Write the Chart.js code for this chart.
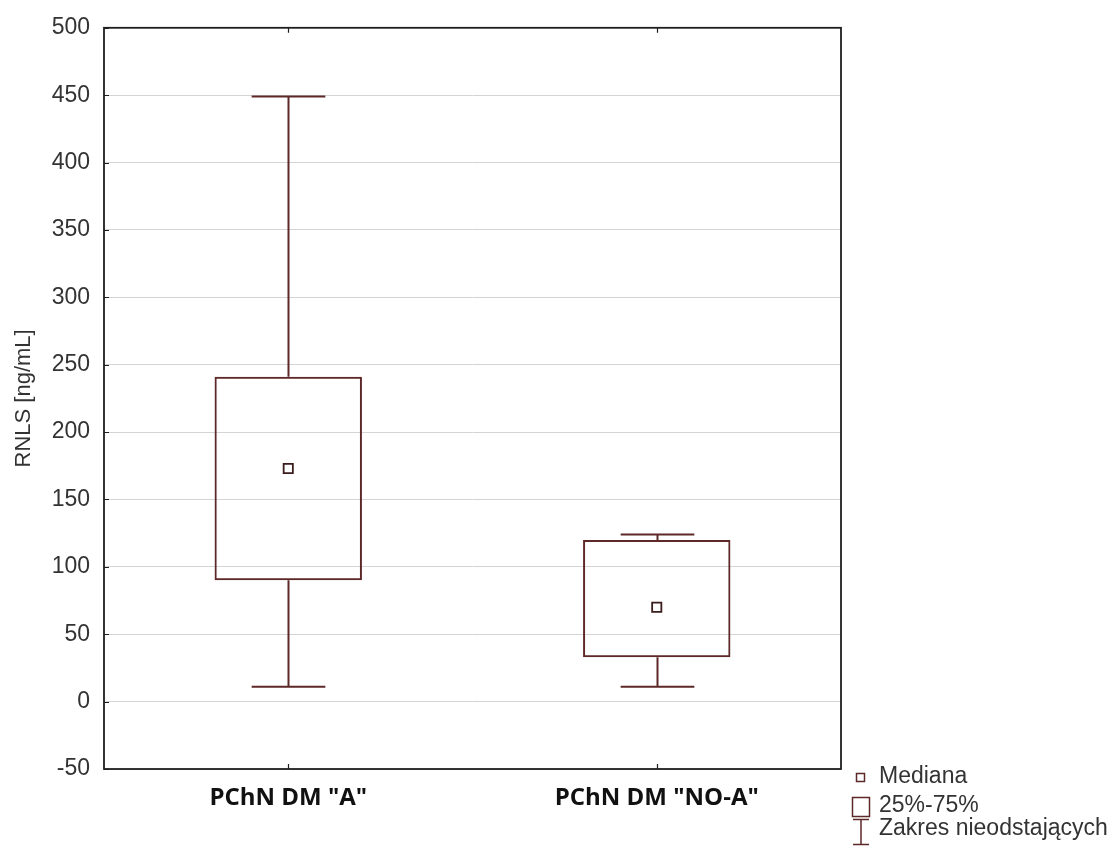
<!DOCTYPE html>
<html>
<head>
<meta charset="utf-8">
<script src="https://cdn.jsdelivr.net/npm/chart.js@4.4.1/dist/chart.umd.min.js"></script>
<style>
  html, body { margin: 0; padding: 0; background: #ffffff; }
  #wrap { width: 1119px; height: 848px; }
</style>
</head>
<body>
<div id="wrap"><canvas id="c" width="1119" height="848"></canvas></div>
<script>
const categories = ['PChN DM "A"', 'PChN DM "NO-A"'];
const whiskerLow = [11, 11];
const q1 = [90, 33];
const median = [173, 70];
const q3 = [241, 120];
const whiskerHigh = [449, 124];
const yTicks = [-50, 0, 50, 100, 150, 200, 250, 300, 350, 400, 450, 500];
const legendLabels = ['Mediana', '25%-75%', 'Zakres nieodstających'];
const yTitle = 'RNLS [ng/mL]';

const BOX = '#5e2828';
const TEXT = '#333333';
const TICKFONT = { family: '"Liberation Sans", Arial, sans-serif', size: 23 };

const boxPlugin = {
  id: 'boxExtras',
  beforeDatasetsDraw(chart) {
    const { ctx, scales: { x, y } } = chart;
    ctx.save();
    ctx.strokeStyle = BOX;
    ctx.lineWidth = 2;
    const catW = x.getPixelForValue(1) - x.getPixelForValue(0);
    const capHalf = catW * 0.1;
    categories.forEach((c, i) => {
      const cx = Math.round(x.getPixelForValue(i)) + 0.5;
      const yl = y.getPixelForValue(whiskerLow[i]);
      const y1 = y.getPixelForValue(q1[i]);
      const y3 = y.getPixelForValue(q3[i]);
      const yh = y.getPixelForValue(whiskerHigh[i]);
      ctx.beginPath();
      ctx.moveTo(cx, y1); ctx.lineTo(cx, yl);
      ctx.moveTo(cx, y3); ctx.lineTo(cx, yh);
      ctx.moveTo(cx - capHalf, yl); ctx.lineTo(cx + capHalf, yl);
      ctx.moveTo(cx - capHalf, yh); ctx.lineTo(cx + capHalf, yh);
      ctx.stroke();
    });
    ctx.restore();
  },
  afterDraw(chart) {
    const { ctx, chartArea: a, scales: { x, y } } = chart;
    ctx.save();
    // frame
    ctx.strokeStyle = '#1e1e1e';
    ctx.lineWidth = 1.8;
    ctx.strokeRect(a.left, a.top, a.right - a.left, a.bottom - a.top);
    // inward ticks
    ctx.lineWidth = 1.2;
    ctx.beginPath();
    yTicks.forEach(v => {
      const py = Math.round(y.getPixelForValue(v)) + 0.5;
      ctx.moveTo(a.left, py); ctx.lineTo(a.left + 5, py);
    });
    categories.forEach((c, i) => {
      const px = Math.round(x.getPixelForValue(i)) + 0.5;
      ctx.moveTo(px, a.bottom); ctx.lineTo(px, a.bottom - 5);
      ctx.moveTo(px, a.top); ctx.lineTo(px, a.top + 5);
    });
    ctx.stroke();

    // legend
    ctx.font = '23px "Liberation Sans", Arial, sans-serif';
    ctx.fillStyle = TEXT;
    ctx.textAlign = 'left';
    ctx.textBaseline = 'middle';
    const tx = 879;
    const rows = [777, 806, 829];
    ctx.strokeStyle = BOX;
    ctx.lineWidth = 1.5;
    // median marker
    ctx.strokeRect(856.5, 773.5, 8, 8);
    // box marker
    ctx.strokeRect(852.5, 797.5, 17, 19);
    // whisker marker
    ctx.beginPath();
    ctx.moveTo(853, 819.5); ctx.lineTo(869, 819.5);
    ctx.moveTo(861, 819.5); ctx.lineTo(861, 844.5);
    ctx.moveTo(853, 844.5); ctx.lineTo(869, 844.5);
    ctx.stroke();
    legendLabels.forEach((t, i) => ctx.fillText(t, tx, rows[i]));
    ctx.restore();
  }
};

new Chart(document.getElementById('c'), {
  type: 'bar',
  data: {
    labels: categories,
    datasets: [
      {
        label: '25%-75%',
        data: q1.map((v, i) => [v, q3[i]]),
        backgroundColor: 'rgba(255,255,255,0)',
        borderColor: BOX,
        borderWidth: 2,
        borderSkipped: false,
        barPercentage: 0.4,
        categoryPercentage: 1.0,
        order: 2
      },
      {
        type: 'line',
        label: 'Mediana',
        data: median,
        showLine: false,
        pointStyle: 'rect',
        pointRadius: 6.5,
        pointBackgroundColor: '#ffffff',
        pointBorderColor: '#3a1c1c',
        pointBorderWidth: 1.8,
        order: 1
      }
    ]
  },
  options: {
    responsive: false,
    animation: false,
    layout: { padding: { top: 27, right: 278, left: 0, bottom: 0 } },
    plugins: { legend: { display: false }, tooltip: { enabled: false } },
    scales: {
      x: {
        offset: true,
        grid: { display: false, drawTicks: false },
        border: { display: false },
        ticks: {
          color: '#111',
          padding: 15,
          font: { family: '"Open Sans", sans-serif', size: 24, weight: 'bold' }
        },
        afterFit(s) { s.height = 79; }
      },
      y: {
        min: -50,
        max: 500,
        afterBuildTicks(s) { s.ticks = yTicks.map(v => ({ value: v })); },
        grid: { color: '#d4d4d4', lineWidth: 1, drawTicks: false },
        border: { display: false },
        ticks: { color: TEXT, padding: 14, font: TICKFONT },
        title: {
          display: true,
          text: yTitle,
          color: TEXT,
          font: { family: '"Liberation Sans", Arial, sans-serif', size: 22 },
          padding: { top: 11, bottom: 0 }
        },
        afterFit(s) { s.width = 104; }
      }
    }
  },
  plugins: [boxPlugin]
});
</script>
</body>
</html>
